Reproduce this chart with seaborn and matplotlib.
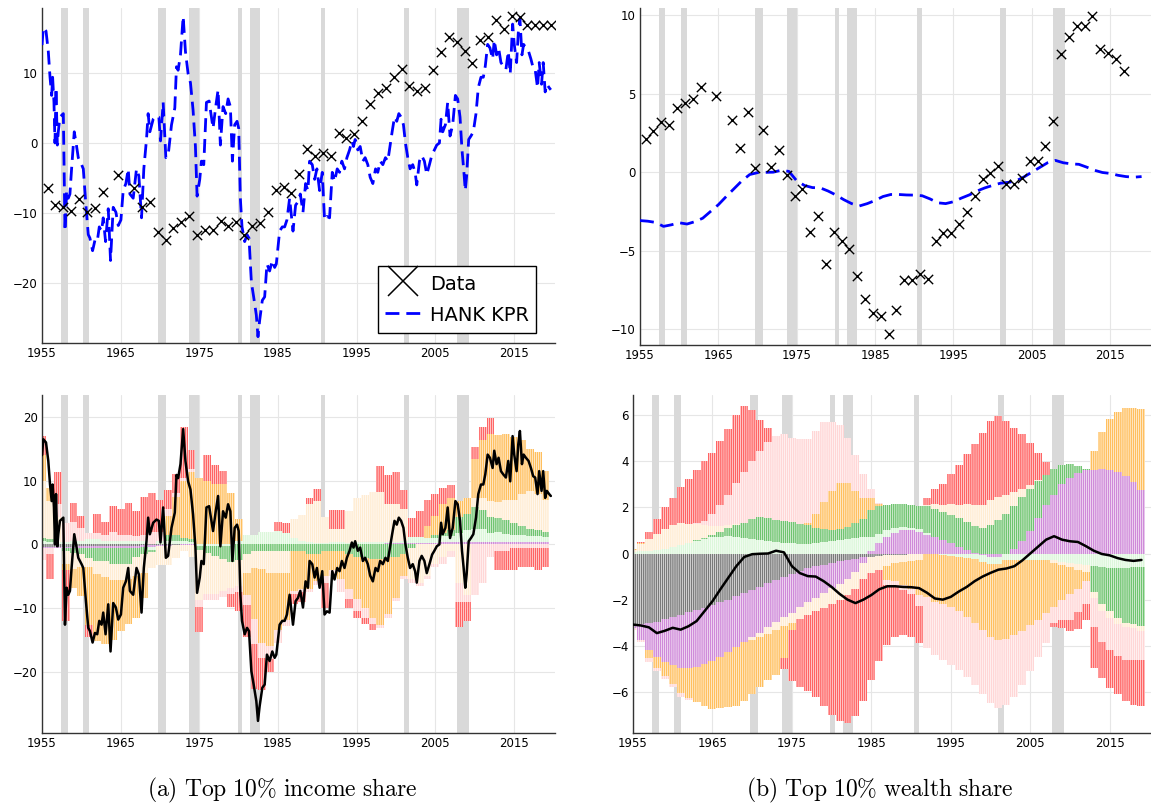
import numpy as np
import pandas as pd
import matplotlib
matplotlib.use("Agg")
import matplotlib.pyplot as plt
from matplotlib.lines import Line2D
import seaborn as sns

# ---------------- data ----------------
years = np.arange(1955, 2020)
xticks = [1955, 1965, 1975, 1985, 1995, 2005, 2015]

recessions = [(1957.45, 1958.25), (1960.2, 1961.0), (1969.7, 1970.75), (1973.7, 1975.0),
              (1979.85, 1980.45), (1981.45, 1982.7), (1990.4, 1991.0), (2000.95, 2001.7),
              (2007.7, 2009.25)]

# annual data (plotted mid/late year), NaN = missing year
income_data = [-6.4, -8.9, -9.2, -9.7, -8.0, -9.8, -9.3, -7.0, np.nan, -4.6,
               np.nan, -6.4, -9.1, -8.5, -12.7, -13.9, -12.1, -11.3, -10.4, -13.2,
               -12.4, -12.5, -11.2, -11.8, -11.3, -13.2, -11.9, -11.5, -9.9, -6.7,
               -6.3, -7.2, -4.4, -0.8, -1.8, -1.5, -1.8, 1.4, 0.7, 1.3,
               3.2, 5.6, 7.2, 7.9, 9.5, 10.6, 8.2, 7.5, 7.9, 10.4,
               13.0, 15.1, 14.4, 13.2, 11.4, 14.7, 15.1, 17.6, 16.3, 18.1,
               18.0, 16.8, 16.8, 16.8, 16.8]
wealth_years = np.arange(1955, 2017)
wealth_data = [2.12, 2.63, 3.2, 3.0, 4.07, 4.43, 4.67, 5.39, np.nan, 4.86,
               np.nan, 3.33, 1.57, 3.84, 0.28, 2.71, 0.30, 1.42, -0.17, -1.5,
               -1.08, -3.78, -2.78, -5.83, -3.82, -4.35, -4.88, -6.6, -8.08, -8.97,
               -9.18, -10.3, -8.76, -6.85, -6.85, -6.49, -6.77, -4.35, -3.88, -3.88,
               -3.31, -2.52, -1.5, -0.42, -0.06, 0.40, -0.74, -0.74, -0.34, 0.72,
               0.72, 1.68, 3.24, 7.53, 8.63, 9.33, 9.33, 9.95, 7.83, 7.57,
               7.19, 6.45]

# HANK KPR model, income (quarterly-ish readings)
income_model_t = [1955.0, 1955.17, 1955.51, 1955.80, 1956.02, 1956.23, 1956.35, 1956.52, 1956.65, 1956.78,
                  1956.95, 1957.07, 1957.28, 1957.71, 1957.92, 1958.13, 1958.34, 1958.55, 1958.76, 1959.10,
                  1959.40, 1959.61, 1960.03, 1960.25, 1960.58, 1960.88, 1961.09, 1961.43, 1961.73, 1962.02,
                  1962.28, 1962.57, 1962.78, 1963.08, 1963.42, 1963.71, 1964.05, 1964.39, 1964.69, 1965.03,
                  1965.32, 1965.66, 1965.96, 1966.17, 1966.59, 1967.01, 1967.31, 1967.65, 1967.94, 1968.28,
                  1968.49, 1968.71, 1969.13, 1969.55, 1969.85, 1970.06, 1970.40, 1970.74, 1971.03, 1971.46,
                  1971.88, 1972.09, 1972.30, 1972.60, 1972.94, 1973.23, 1973.57, 1973.87, 1974.20, 1974.50,
                  1974.71, 1975.05, 1975.26, 1975.56, 1975.90, 1976.24, 1976.74, 1977.08, 1977.38, 1977.67,
                  1978.01, 1978.35, 1978.65, 1978.94, 1979.20, 1979.49, 1979.79, 1980.00, 1980.21, 1980.42,
                  1980.76, 1981.06, 1981.31, 1981.61, 1981.90, 1982.24, 1982.45, 1982.66, 1983.00, 1983.30,
                  1983.59, 1983.93, 1984.27, 1984.57, 1984.78, 1985.20, 1985.54, 1985.84, 1986.13, 1986.47,
                  1986.90, 1987.23, 1987.53, 1987.83, 1988.17, 1988.50, 1988.80, 1989.01, 1989.35, 1989.65,
                  1989.94, 1990.28, 1990.62, 1990.91, 1991.21, 1991.55, 1991.89, 1992.18, 1992.52, 1992.82,
                  1993.11, 1993.45, 1993.75, 1994.09, 1994.38, 1994.59, 1994.80, 1995.14, 1995.44, 1995.78,
                  1996.07, 1996.41, 1996.71, 1997.05, 1997.39, 1997.68, 1997.98, 1998.32, 1998.65, 1998.95,
                  1999.16, 1999.50, 1999.80, 2000.09, 2000.35, 2000.64, 2000.94, 2001.19, 2001.49, 2001.78,
                  2002.12, 2002.42, 2002.63, 2002.97, 2003.26, 2003.60, 2003.90, 2004.24, 2004.58, 2004.87,
                  2005.17, 2005.51, 2005.72, 2005.93, 2006.27, 2006.56, 2006.86, 2007.20, 2007.54, 2007.83,
                  2008.13, 2008.38, 2008.59, 2008.80, 2008.97, 2009.23, 2009.52, 2009.82, 2010.16, 2010.45,
                  2010.79, 2011.09, 2011.34, 2011.64, 2011.93, 2012.27, 2012.48, 2012.78, 2013.03, 2013.33,
                  2013.62, 2013.96, 2014.26, 2014.51, 2014.81, 2015.02, 2015.32, 2015.53, 2015.74, 2016.00,
                  2016.21, 2016.50, 2016.84, 2017.14, 2017.43, 2017.68, 2017.98, 2018.19, 2018.49, 2018.70,
                  2018.95, 2019.16, 2019.46, 2019.67]
income_model_v = [14.0, 16.5, 16.0, 13.1, 9.4, 6.8, 9.4, 5.8, 0.0, 7.9,
                  -0.3, 1.6, 3.7, 4.2, -12.6, -6.8, -7.9, -7.3, -3.7, 1.6,
                  -0.5, -2.1, -3.1, -3.7, -8.9, -13.1, -13.6, -15.4, -13.9, -14.1,
                  -12.0, -12.6, -10.7, -14.1, -9.4, -16.8, -9.2, -9.9, -11.8, -11.0,
                  -6.8, -5.8, -3.7, -7.3, -7.9, -3.7, -4.7, -10.7, -3.7, 0.5,
                  4.2, 1.6, 3.4, 3.9, 3.7, 0.3, 5.8, -2.1, -1.8, 2.6,
                  5.0, 10.9, 10.4, 12.6, 18.1, 13.1, 9.9, 8.6, 4.7, -0.5,
                  -7.6, -5.2, -2.6, -3.1, 5.8, 6.0, 2.1, 5.2, 7.6, -0.3,
                  5.2, 4.2, 6.3, 5.2, -2.6, 2.6, 3.1, 2.1, -7.9, -12.0,
                  -14.1, -13.1, -13.6, -19.9, -22.0, -24.6, -27.7, -25.4, -22.5, -22.0,
                  -17.3, -18.3, -16.8, -17.8, -17.3, -12.6, -12.0, -12.0, -11.0, -7.9,
                  -12.6, -8.9, -8.4, -7.3, -9.9, -5.8, -6.8, -2.6, -3.1, -5.2,
                  -3.7, -6.8, -4.2, -11.0, -10.5, -10.7, -4.2, -5.5, -3.7, -4.2,
                  -2.6, -3.7, -2.1, -1.0, 0.3, -0.5, 0.5, -1.0, -0.5, -2.6,
                  -2.1, -3.1, -4.9, -5.8, -3.7, -4.2, -2.6, -3.1, -2.1, -2.6,
                  -1.0, 1.6, 3.7, 3.1, 4.2, 3.7, 2.6, 0.0, -2.1, -3.7,
                  -3.1, -4.2, -6.0, -2.6, -1.8, -2.6, -4.5, -3.1, -1.6, -1.0,
                  -0.3, 0.0, 3.4, 1.6, 2.6, 5.8, 1.0, 2.6, 6.8, 6.3,
                  3.7, -1.0, -3.7, -6.8, -4.7, 0.5, 1.0, 1.6, 4.2, 7.9,
                  9.4, 9.4, 11.0, 14.1, 13.6, 12.0, 14.7, 12.6, 13.6, 11.5,
                  11.0, 10.5, 13.1, 9.9, 17.0, 14.1, 11.5, 15.7, 17.8, 12.6,
                  14.1, 13.6, 13.1, 12.0, 10.7, 10.5, 7.9, 11.5, 8.4, 11.5,
                  7.3, 8.4, 7.9, 7.6]

# HANK KPR model, wealth (annual 1955-2019)
wealth_model = [-3.08, -3.12, -3.2, -3.45, -3.35, -3.22, -3.3, -3.15, -2.93, -2.5,
                -2.07, -1.55, -1.05, -0.55, -0.15, -0.03, -0.01, 0.0, 0.12, 0.05,
                -0.55, -0.85, -0.98, -1.0, -1.2, -1.45, -1.75, -2.0, -2.15, -2.0,
                -1.8, -1.55, -1.42, -1.42, -1.45, -1.46, -1.5, -1.7, -1.95, -2.0,
                -1.88, -1.65, -1.45, -1.2, -1.0, -0.84, -0.7, -0.65, -0.55, -0.3,
                0.0, 0.3, 0.6, 0.75, 0.6, 0.53, 0.5, 0.32, 0.12, -0.02,
                -0.08, -0.2, -0.28, -0.32, -0.28]

# shock decomposition, income (annual 1955-2019)
inc_gray = [-0.4, -0.4, -0.4, -0.35, -0.35, -0.3, -0.3, -0.3, -0.3, -0.25,
            -0.25, -0.2, -0.2, -0.15, -0.1, -0.1, -0.05, -0.05, 0.0, 0.0,
            0.0, 0.0, 0.0, 0.0, 0.0, 0.0, 0.0, 0.0, 0.0, 0.0,
            0.0, 0.0, 0.0, 0.0, 0.0, 0.0, 0.0, 0.0, 0.0, 0.0,
            0.0, 0.0, 0.0, 0.0, 0.0, 0.0, 0.0, 0.0, 0.0, 0.0,
            0.0, 0.0, 0.0, 0.0, 0.0, 0.0, 0.0, 0.0, 0.0, 0.0,
            0.0, 0.0, 0.0, 0.0, 0.0]
inc_purple = [-0.1, -0.1, -0.15, -0.2, -0.2, -0.25, -0.3, -0.3, -0.3, -0.3,
              -0.3, -0.3, -0.3, -0.3, -0.25, -0.2, -0.15, -0.1, -0.1, -0.05,
              0.0, 0.0, 0.0, 0.0, 0.0, 0.0, 0.0, 0.0, 0.0, 0.0,
              0.05, 0.05, 0.05, 0.05, 0.05, 0.05, 0.05, 0.05, 0.05, 0.05,
              0.1, 0.1, 0.1, 0.1, 0.15, 0.15, 0.2, 0.2, 0.2, 0.25,
              0.25, 0.3, 0.3, 0.3, 0.3, 0.35, 0.35, 0.35, 0.4, 0.4,
              0.4, 0.4, 0.45, 0.45, 0.45]
inc_lightgreen = [0.5, 0.3, 0.3, 0.3, 0.5, 0.5, 0.8, 0.8, 0.5, 0.5,
                  0.5, 0.5, 0.5, 0.5, -0.5, 0.5, 0.5, 0.5, 0.5, 0.3,
                  -0.3, -0.3, -0.3, -0.3, -0.3, 0.5, 1.5, 1.5, 2.0, 2.0,
                  2.0, 1.8, 1.0, 0.5, 0.3, 0.2, 0.2, 0.3, 0.3, 0.2,
                  0.2, 0.2, 0.2, 0.2, 0.2, 0.2, 0.3, 1.0, 1.0, 0.7,
                  0.7, 1.0, 1.0, 1.5, 2.0, 2.0, 2.0, 1.5, 1.5, 1.3,
                  1.0, 1.0, 0.8, 0.8, 0.7]
inc_green = [0.5, 0.5, 0.0, -0.5, -0.8, -1.0, -1.5, -2.0, -2.0, -2.5,
             -2.5, -2.5, -1.5, -1.0, -0.3, 0.0, 1.0, 1.0, 0.5, 0.5,
             -0.5, -1.0, -1.5, -2.0, -2.5, -2.5, -1.5, -1.0, -1.0, -1.0,
             -1.0, -1.0, -1.0, -1.0, -1.5, -1.5, -1.0, -1.0, -1.0, -1.5,
             -2.0, -2.2, -2.3, -2.3, -2.0, -2.0, -1.5, -0.5, 0.0, 0.0,
             0.5, 0.5, 1.0, 2.5, 2.5, 3.5, 3.0, 2.5, 2.3, 2.2,
             2.0, 1.5, 1.2, 1.0, 0.8]
inc_cream = [9.0, 6.0, 4.0, -2.0, -2.5, -2.0, -1.5, -2.0, -2.5, -2.5,
             -2.5, -2.5, -3.0, -3.0, -2.5, -3.0, -3.0, -2.0, -1.0, -2.0,
             -8.0, -6.5, -6.0, -5.0, -4.0, -4.0, -3.0, -2.7, -2.9, -3.5,
             -3.5, -3.5, 3.0, 4.0, 6.0, 6.5, 4.0, 2.0, 2.0, 5.0,
             7.0, 7.5, 8.0, 8.0, 6.0, 6.0, 5.0, -5.0, -6.0, -5.0,
             -3.0, -2.0, -1.0, -6.0, -8.0, 1.5, 2.0, 2.5, 2.5, 3.0,
             3.5, 5.0, 6.0, 5.7, 5.0]
inc_orange = [4.0, 2.0, 0.0, -1.0, -3.0, -4.5, -9.0, -10.5, -10.5, -9.5,
              -8.0, -7.0, -6.5, -4.0, 0.0, 0.0, 3.0, 6.0, 9.0, 10.5,
              10.5, 10.0, 9.5, 9.5, 8.0, 3.5, -3.5, -8.0, -11.5, -11.5,
              -9.0, -7.3, -6.3, -6.0, -5.5, -4.3, -4.0, -3.0, -4.5, -5.5,
              -6.5, -7.8, -9.2, -10.3, -9.0, -6.4, -3.5, 0.0, 0.0, 2.0,
              3.0, 4.5, 5.0, 2.5, 2.5, 6.0, 9.0, 10.5, 10.5, 10.5,
              10.0, 8.5, 6.5, 6.5, 4.5]
inc_pink = [-2.0, -1.0, 2.0, 3.0, 3.0, 2.0, 1.0, 1.0, 1.0, 1.5,
            1.0, 1.0, 0.8, 1.0, 2.0, 1.5, 1.0, 0.5, 0.5, 0.5,
            -1.0, -1.0, -1.0, -1.0, -1.0, -1.0, -1.5, -4.0, -2.5, -2.0,
            -2.0, -1.0, -0.5, -0.5, -0.5, -0.5, -1.0, -1.0, -2.0, -1.5,
            -2.0, -1.5, -1.0, -0.5, -0.5, -0.5, -0.5, -0.5, -0.5, -0.5,
            -0.5, -1.0, -1.0, -3.0, -1.0, -8.0, -6.0, -2.0, -1.0, -1.0,
            -0.5, -0.5, -0.5, -0.5, -0.5]
inc_red = [3.0, -4.0, 5.0, -8.0, 3.0, 2.0, -2.0, 3.0, 2.0, 4.0,
           4.0, 5.0, 4.0, 6.0, 6.0, 5.0, 3.0, 3.0, 8.0, 3.0,
           -4.0, 4.0, 3.0, 2.0, -2.0, -3.0, -5.0, -7.0, -5.0, -2.0,
           1.5, 1.5, -1.5, -1.5, 1.0, 2.0, -4.0, 3.0, 3.0, -1.5,
           -1.0, -1.0, -1.0, 4.0, 4.5, 5.0, 3.0, 3.0, 4.0, 4.0,
           3.5, 2.5, 2.0, -4.0, -3.0, 2.0, 2.0, 2.5, -3.0, -3.0,
           -3.5, -3.0, -3.0, -3.5, -3.0]

# shock decomposition, wealth (annual 1955-2019)
w_gray = [-3.1, -3.05, -3.0, -2.95, -2.85, -2.75, -2.65, -2.55, -2.45, -2.35,
          -2.25, -2.12, -2.0, -1.85, -1.7, -1.58, -1.45, -1.3, -1.15, -1.0,
          -0.88, -0.76, -0.65, -0.56, -0.48, -0.4, -0.33, -0.27, -0.22, -0.17,
          -0.13, -0.1, -0.08, -0.06, -0.05, -0.04, -0.03, -0.02, -0.01, 0.0,
          0.0, 0.0, 0.0, 0.0, 0.0, 0.0, 0.0, 0.0, 0.0, 0.0,
          0.0, 0.0, 0.0, 0.0, 0.0, 0.0, 0.0, 0.0, 0.0, 0.0,
          0.0, 0.0, 0.0, 0.0, 0.0]
w_purple = [-0.15, -0.7, -1.2, -1.55, -1.85, -2.1, -2.3, -2.4, -2.45, -2.45,
            -2.4, -2.35, -2.28, -2.2, -2.12, -2.05, -1.98, -1.9, -1.82, -1.75,
            -1.68, -1.58, -1.47, -1.35, -1.22, -1.1, -0.98, -0.85, -0.6, -0.25,
            0.1, 0.45, 0.7, 0.9, 1.0, 1.0, 0.95, 0.82, 0.7, 0.58,
            0.46, 0.3, 0.17, 0.03, -0.05, -0.15, -0.15, 0.0, 0.2, 0.53,
            0.97, 1.55, 2.1, 2.55, 3.0, 3.28, 3.47, 3.6, 3.64, 3.68,
            3.64, 3.54, 3.35, 3.1, 2.77]
w_lightgreen = [0.05, 0.1, 0.12, 0.15, 0.2, 0.3, 0.38, 0.45, 0.55, 0.62,
                0.7, 0.73, 0.75, 0.72, 0.68, 0.65, 0.6, 0.55, 0.5, 0.47,
                0.45, 0.43, 0.42, 0.44, 0.5, 0.55, 0.58, 0.62, 0.66, 0.7,
                0.6, 0.4, 0.3, 0.2, 0.15, 0.12, 0.1, 0.05, 0.0, -0.05,
                -0.1, -0.15, -0.2, -0.25, -0.3, -0.3, -0.3, -0.3, -0.3, -0.3,
                -0.3, -0.3, -0.3, -0.3, -0.35, -0.4, -0.45, -0.5, -0.55, -0.6,
                -0.65, -0.65, -0.65, -0.6, -0.6]
w_green = [0.0, 0.0, 0.0, 0.0, 0.0, 0.0, 0.0, 0.0, 0.02, 0.05,
           0.1, 0.2, 0.35, 0.5, 0.65, 0.85, 1.0, 0.97, 0.95, 0.95,
           0.9, 0.87, 0.8, 0.68, 0.55, 0.45, 0.48, 0.55, 0.65, 0.8,
           1.2, 1.2, 1.12, 1.05, 1.0, 1.0, 1.03, 1.18, 1.25, 1.22,
           1.22, 1.22, 1.21, 1.17, 1.12, 1.25, 1.45, 1.7, 1.85, 1.92,
           1.83, 1.6, 1.3, 1.1, 0.82, 0.62, 0.33, 0.05, -1.1, -1.6,
           -1.85, -2.15, -2.35, -2.45, -2.55]
w_cream = [0.1, 0.3, 0.5, 0.7, 0.85, 0.95, 0.95, 0.85, 0.7, 0.55,
           0.4, 0.28, 0.15, 0.05, 0.0, -0.1, -0.2, -0.3, -0.35, -0.4,
           -0.45, -0.5, -0.55, -0.6, -0.65, -0.7, -0.7, -0.7, -0.7, -0.7,
           -0.7, -0.6, -0.45, -0.35, -0.3, -0.28, -0.25, 0.05, 0.2, 0.3,
           0.45, 0.58, 0.75, 0.92, 1.0, 1.05, 1.0, 0.85, 0.6, 0.35,
           0.15, 0.05, 0.0, -0.1, -0.15, -0.2, -0.25, -0.3, -0.3, -0.3,
           -0.3, -0.25, -0.2, -0.2, -0.2]
w_orange = [0.05, 0.05, -0.35, -0.45, -0.6, -0.8, -1.1, -1.3, -1.55, -1.8,
            -2.1, -2.23, -2.37, -2.55, -2.58, -2.37, -2.17, -2.0, -1.93, -1.4,
            -0.3, 0.0, 0.1, 0.6, 1.2, 1.7, 2.0, 1.9, 1.4, 0.9,
            0.5, 0.1, -0.6, -0.8, -1.0, -1.2, -1.5, -1.88, -2.09, -2.15,
            -2.2, -2.35, -2.55, -2.75, -2.95, -3.15, -3.3, -3.4, -3.25, -3.05,
            -2.8, -2.6, -2.3, -1.9, -1.5, -1.15, -0.85, -0.4, 0.8, 1.6,
            2.2, 2.6, 2.95, 3.2, 3.5]
w_pink = [-0.05, -0.1, -0.15, -0.15, -0.15, -0.15, -0.15, -0.1, 0.05, 0.2,
          0.5, 0.9, 1.3, 1.8, 2.2, 2.5, 2.85, 3.3, 3.65, 3.75,
          3.65, 3.65, 3.65, 3.6, 3.45, 3.0, 2.5, 1.95, 1.55, 1.05,
          0.4, 0.05, -0.25, -0.25, -0.25, -0.25, -0.5, -2.2, -2.3, -2.4,
          -2.55, -2.55, -2.6, -2.7, -2.8, -2.9, -2.95, -2.85, -2.65, -2.35,
          -2.0, -1.6, -1.3, -0.7, -0.9, -1.15, -1.0, -1.0, -1.25, -1.35,
          -1.4, -1.4, -1.4, -1.35, -1.25]
w_red = [0.0, 0.05, 0.3, 0.65, 0.95, 1.15, 1.55, 1.95, 2.3, 2.6,
         2.65, 2.75, 2.85, 2.95, 2.85, 2.2, 1.35, 0.6, 0.0, -0.45,
         -2.2, -2.96, -3.28, -3.69, -4.25, -4.8, -5.24, -5.53, -5.53, -5.28,
         -4.67, -3.95, -2.6, -2.14, -1.95, -1.83, -1.6, 0.3, 0.65, 0.9,
         1.3, 1.75, 2.2, 2.63, 3.1, 3.45, 3.53, 3.2, 2.77, 2.4,
         1.82, 1.15, 0.55, -0.2, -0.35, -0.45, -0.73, -0.7, -1.76, -1.55,
         -1.62, -1.65, -1.8, -1.95, -2.0]

shock_colors = ["#7a7a7a", "#cf8ad9", "#dcf7da", "#6fc46f", "#ffecd2",
                "#ffbf5e", "#ffd6d6", "#ff6464"]

# ---------------- style ----------------
sns.set_theme(style="whitegrid")
plt.rcParams["font.family"] = ["DejaVu Sans"]
plt.rcParams["mathtext.fontset"] = "cm"
plt.rcParams["hatch.linewidth"] = 0.45
plt.rcParams["text.color"] = "black"
plt.rcParams["legend.labelcolor"] = "black"

fig = plt.figure(figsize=(11.51, 8.09), dpi=100)
W, H = 1151.0, 809.0


def make_ax(x0, x1, y0, y1):
    return fig.add_axes([x0 / W, 1 - y1 / H, (x1 - x0) / W, (y1 - y0) / H])


ax_a = make_ax(42, 555, 8, 343)
ax_b = make_ax(640, 1151, 8, 345)
ax_c = make_ax(42, 555, 395, 733)
ax_d = make_ax(633, 1151, 395, 733)


def style(ax, ylim, yticks):
    ax.set_xlim(1955, 2020.2)
    ax.set_ylim(*ylim)
    ax.set_xticks(xticks)
    ax.set_yticks(yticks)
    ax.set_facecolor("white")
    ax.grid(True, color="#e6e6e6", linewidth=0.8)
    ax.set_axisbelow(True)
    for s in ["top", "right"]:
        ax.spines[s].set_visible(False)
    for s in ["left", "bottom"]:
        ax.spines[s].set_visible(True)
        ax.spines[s].set_color("#333333")
        ax.spines[s].set_linewidth(1.0)
    ax.tick_params(axis="both", labelsize=8.5, length=0, pad=3, colors="black")
    for a, b in recessions:
        ax.axvspan(a, b, color="#d9d9d9", linewidth=0, zorder=1)
    ax.set_xlabel("")
    ax.set_ylabel("")


def stacked(ax, comps):
    pos = np.zeros(len(years))
    neg = np.zeros(len(years))
    for vals, c in zip(comps, shock_colors):
        v = np.asarray(vals, dtype=float)
        p = np.where(v > 0, v, 0.0)
        n = np.where(v < 0, v, 0.0)
        for part, base in ((p, pos), (n, neg)):
            ax.bar(years, part, bottom=base, width=1.0, color=c, edgecolor="white",
                   linewidth=0, hatch="|" * 8, zorder=2)
        pos += p
        neg += n


# (a) top: income share
style(ax_a, (-28.6, 19.3), [-20, -10, 0, 10])
df_inc = pd.DataFrame({"t": years + 0.7, "v": income_data}).dropna()
sns.scatterplot(data=df_inc, x="t", y="v", marker="x", color="black", s=45,
                linewidth=1.0, ax=ax_a, zorder=4)
sns.lineplot(x=income_model_t, y=income_model_v, color="blue", linewidth=2.0,
             ax=ax_a, zorder=3, sort=False)
ax_a.lines[-1].set_dashes((5, 2.5))
ax_a.set_xlabel("")
ax_a.set_ylabel("")
handles = [Line2D([], [], marker="x", color="black", linestyle="none", markersize=22,
                  markeredgewidth=1.1),
           Line2D([], [], color="blue", linewidth=2.0, dashes=(5, 2.5))]
leg = ax_a.legend(handles, ["Data", "HANK KPR"], loc="lower right",
                  bbox_to_anchor=(0.962, 0.03), borderaxespad=0, frameon=True,
                  fancybox=False, edgecolor="black", framealpha=1, fontsize=14,
                  handlelength=1.9, handleheight=1.4, handletextpad=0.4,
                  labelspacing=0.45, borderpad=0.35)
leg.get_frame().set_linewidth(1.0)

# (b) top: wealth share
style(ax_b, (-11.0, 10.45), [-10, -5, 0, 5, 10])
df_w = pd.DataFrame({"t": wealth_years + 0.72, "v": wealth_data}).dropna()
sns.scatterplot(data=df_w, x="t", y="v", marker="x", color="black", s=45,
                linewidth=1.0, ax=ax_b, zorder=4)
sns.lineplot(x=years, y=wealth_model, color="blue", linewidth=2.0, ax=ax_b, zorder=3)
ax_b.lines[-1].set_dashes((5, 2.5))
ax_b.set_xlabel("")
ax_b.set_ylabel("")

# (a) bottom: income decomposition
style(ax_c, (-29.6, 23.45), [-20, -10, 0, 10, 20])
stacked(ax_c, [inc_gray, inc_purple, inc_lightgreen, inc_green, inc_cream,
               inc_orange, inc_pink, inc_red])
sns.lineplot(x=income_model_t, y=income_model_v, color="black", linewidth=1.8,
             ax=ax_c, zorder=5, sort=False)
ax_c.set_xlabel("")
ax_c.set_ylabel("")

# (b) bottom: wealth decomposition
style(ax_d, (-7.78, 6.87), [-6, -4, -2, 0, 2, 4, 6])
stacked(ax_d, [w_gray, w_purple, w_lightgreen, w_green, w_cream, w_orange,
               w_pink, w_red])
sns.lineplot(x=years, y=wealth_model, color="black", linewidth=1.8, ax=ax_d, zorder=5)
ax_d.set_xlabel("")
ax_d.set_ylabel("")

fig.text(282 / W, 1 - 790 / H, r"$\mathrm{(a)\ Top\ 10\%\ income\ share}$",
         ha="center", va="center", fontsize=17, color="black")
fig.text(880 / W, 1 - 790 / H, r"$\mathrm{(b)\ Top\ 10\%\ wealth\ share}$",
         ha="center", va="center", fontsize=17, color="black")

fig.savefig("out.png", dpi=100)
